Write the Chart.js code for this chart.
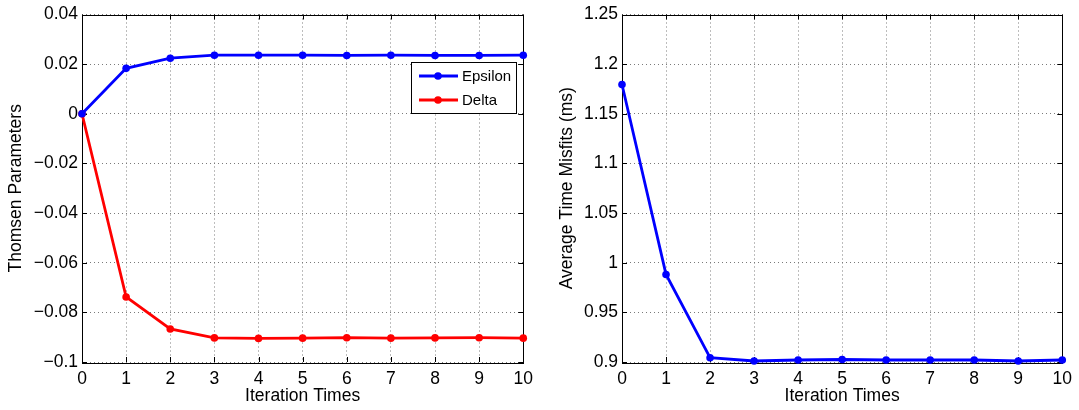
<!DOCTYPE html>
<html>
<head>
<meta charset="utf-8">
<script src="https://cdn.jsdelivr.net/npm/chart.js@4"></script>
<style>
  body { margin: 0; background: #fff; }
  #wrap { position: relative; width: 1079px; height: 410px; }
  canvas { position: absolute; top: 0; }
</style>
</head>
<body>
<div id="wrap">
  <canvas id="thomsen" width="540" height="410" style="left:0"></canvas>
  <canvas id="misfit" width="539" height="410" style="left:540px"></canvas>
</div>
<script>
// iteration index on the x axis
const iterations = [0, 1, 2, 3, 4, 5, 6, 7, 8, 9, 10];

// Thomsen parameters per iteration
const epsilon = [0, 0.0183, 0.0224, 0.0236, 0.0236, 0.0236, 0.0235, 0.0236, 0.0235, 0.0235, 0.0236];
const delta = [0, -0.0738, -0.0867, -0.0903, -0.0905, -0.0904, -0.0902, -0.0904, -0.0903, -0.0902, -0.0904];

// average travel time misfit (ms) per iteration
const misfit = [1.1795, 0.9882, 0.9043, 0.901, 0.902, 0.9025, 0.902, 0.902, 0.902, 0.901, 0.902];

// tick values
const thomsenTicks = [-0.1, -0.08, -0.06, -0.04, -0.02, 0, 0.02, 0.04];
const misfitTicks = [0.9, 0.95, 1, 1.05, 1.1, 1.15, 1.2, 1.25];

const FONT = '"Liberation Sans", Arial, Helvetica, sans-serif';
Chart.defaults.font.family = FONT;
Chart.defaults.color = '#000';

function fmt(v) {
  const s = String(parseFloat(v.toFixed(4)));
  return s.replace('-', '\u2212');
}

// black box around the plot with inward tick marks on all four sides
const boxAxes = {
  id: 'boxAxes',
  beforeDatasetsDraw(chart) {
    const { ctx, chartArea: a, scales: { x, y } } = chart;
    const len = 5;
    ctx.save();
    ctx.strokeStyle = '#000';
    ctx.lineWidth = 1;
    ctx.beginPath();
    x.ticks.forEach(t => {
      const px = Math.round(x.getPixelForValue(t.value)) + 0.5;
      ctx.moveTo(px, a.bottom); ctx.lineTo(px, a.bottom - len);
      ctx.moveTo(px, a.top); ctx.lineTo(px, a.top + len);
    });
    y.ticks.forEach(t => {
      const py = Math.round(y.getPixelForValue(t.value)) + 0.5;
      ctx.moveTo(a.left, py); ctx.lineTo(a.left + len, py);
      ctx.moveTo(a.right, py); ctx.lineTo(a.right - len, py);
    });
    ctx.stroke();
    ctx.strokeRect(Math.round(a.left) + 0.5, Math.round(a.top) + 0.5,
      Math.round(a.right - a.left), Math.round(a.bottom - a.top));
    ctx.restore();
  }
};

// boxed legend drawn inside the plot
const boxLegend = {
  id: 'boxLegend',
  afterDatasetsDraw(chart, args, opts) {
    if (!opts.box) return;
    const { ctx } = chart;
    const b = opts.box;
    ctx.save();
    ctx.fillStyle = '#fff';
    ctx.fillRect(b.x, b.y, b.w, b.h);
    ctx.strokeStyle = '#000';
    ctx.lineWidth = 1;
    ctx.strokeRect(b.x + 0.5, b.y + 0.5, b.w, b.h);
    ctx.font = '15px ' + FONT;
    ctx.textBaseline = 'middle';
    chart.data.datasets.forEach((ds, i) => {
      const yy = b.y + b.first + i * b.step;
      ctx.strokeStyle = ds.borderColor;
      ctx.lineWidth = ds.borderWidth;
      ctx.beginPath();
      ctx.moveTo(b.x + 8, yy); ctx.lineTo(b.x + 47, yy);
      ctx.stroke();
      ctx.fillStyle = ds.borderColor;
      ctx.beginPath();
      ctx.arc(b.x + 27, yy, ds.pointRadius, 0, Math.PI * 2);
      ctx.fill();
      ctx.fillStyle = '#000';
      ctx.fillText(ds.label, b.x + 51, yy + 1);
    });
    ctx.restore();
  }
};

function series(label, values, color) {
  return {
    label,
    data: iterations.map((x, i) => ({ x, y: values[i] })),
    borderColor: color,
    backgroundColor: color,
    borderWidth: 2.8,
    pointRadius: 3.8,
    pointBorderWidth: 0,
    tension: 0,
    clip: false
  };
}

function makeChart(id, datasets, ticks, yTitle, yTitlePad, padRight, legendBox) {
  const grid = { color: '#7a7a7a', lineWidth: 1, drawTicks: false };
  return new Chart(document.getElementById(id), {
    type: 'line',
    data: { datasets },
    options: {
      responsive: false,
      animation: false,
      devicePixelRatio: 1,
      layout: { padding: { top: 13, right: padRight, left: 0, bottom: 0 } },
      plugins: {
        legend: { display: false },
        tooltip: { enabled: false },
        boxLegend: { box: legendBox }
      },
      scales: {
        x: {
          type: 'linear',
          min: 0,
          max: 10,
          afterBuildTicks: s => { s.ticks = iterations.map(v => ({ value: v })); },
          afterFit: s => { s.height = 48; },
          grid,
          border: { display: false, dash: [1, 3] },
          ticks: { font: { size: 17.5 }, padding: 7, maxRotation: 0, callback: v => fmt(v) },
          title: { display: true, text: 'Iteration Times', font: { size: 17.5 }, padding: { bottom: 3 } }
        },
        y: {
          min: ticks[0],
          max: ticks[ticks.length - 1],
          afterBuildTicks: s => { s.ticks = ticks.map(v => ({ value: v })); },
          afterFit: s => { s.width = 82; },
          grid,
          border: { display: false, dash: [1, 3] },
          ticks: { font: { size: 17.5 }, padding: 4, callback: v => fmt(v) },
          title: { display: true, text: yTitle, font: { size: 17.5 }, padding: { top: yTitlePad } }
        }
      }
    },
    plugins: [boxAxes, boxLegend]
  });
}

makeChart('thomsen',
  [series('Epsilon', epsilon, '#0000ff'), series('Delta', delta, '#ff0000')],
  thomsenTicks, 'Thomsen Parameters', 6, 15,
  { x: 411, y: 62, w: 105, h: 51, first: 14, step: 24 });

makeChart('misfit',
  [series('Average Time Misfits', misfit, '#0000ff')],
  misfitTicks, 'Average Time Misfits (ms)', 16.5, 13, null);
</script>
</body>
</html>
